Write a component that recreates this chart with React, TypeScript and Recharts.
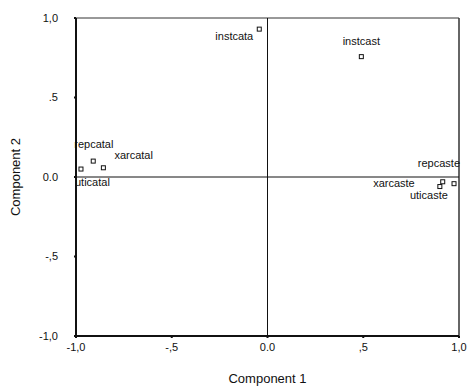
import React from "react";
import {
  ScatterChart,
  Scatter,
  XAxis,
  YAxis,
  ReferenceLine,
} from "recharts";

const labels = [
  "instcata",
  "instcast",
  "repcatal",
  "xarcatal",
  "uticatal",
  "repcaste",
  "xarcaste",
  "uticaste",
];
const comp1 = [-0.043, 0.49, -0.91, -0.857, -0.974, 0.974, 0.915, 0.9];
const comp2 = [0.93, 0.757, 0.1, 0.058, 0.05, -0.042, -0.03, -0.06];

const xTicks = [-1, -0.5, 0, 0.5, 1];
const xTickLabels = ["-1,0", "-,5", "0.0", ",5", "1,0"];
const yTicks = [-1, -0.5, 0, 0.5, 1];
const yTickLabels = ["-1,0", "-,5", "0.0", ".5", "1,0"];

const data = labels.map((name, i) => ({ name, x: comp1[i], y: comp2[i] }));

// label placement relative to marker (anchor, dx, dy)
const placement: Record<string, [string, number, number]> = {
  instcata: ["end", -6, 7],
  instcast: ["middle", 0, -16],
  repcatal: ["start", -19, -17],
  xarcatal: ["start", 11, -13],
  uticatal: ["start", -6, 13],
  repcaste: ["end", 6, -21],
  xarcaste: ["end", -28, 1],
  uticaste: ["end", 8, 8],
};

const font = "'Liberation Sans', Arial, sans-serif";

const Marker = (props: any) => {
  const { cx, cy, payload } = props;
  const p = placement[payload.name] || ["start", 4, 0];
  return (
    <g>
      <rect
        x={cx - 2}
        y={cy - 2}
        width={4}
        height={4}
        fill="#fff"
        stroke="#111"
        strokeWidth={1}
      />
      <text
        x={cx + p[1]}
        y={cy + p[2]}
        textAnchor={p[0] as any}
        dominantBaseline="central"
        fontSize={11}
        fontFamily={font}
        fill="#111"
      >
        {payload.name}
      </text>
    </g>
  );
};

export default function App() {
  return (
    <div style={{ position: "absolute", left: 0, top: 0, background: "#fff" }}>
      <ScatterChart
        width={469}
        height={391}
        margin={{ top: 18, right: 10, bottom: 0, left: 0 }}
      >
        <XAxis
          type="number"
          dataKey="x"
          domain={[-1, 1]}
          ticks={xTicks}
          tickFormatter={(v: number) => xTickLabels[xTicks.indexOf(v)]}
          height={55}
          stroke="#111"
          strokeWidth={2}
          tickSize={2}
          tickMargin={5}
          tick={{ fontSize: 11, fontFamily: font, fill: "#111" }}
          label={{
            value: "Component 1",
            position: "insideBottom",
            offset: 8,
            style: { fontSize: 13, fontFamily: font, fill: "#111" },
          }}
        />
        <YAxis
          type="number"
          dataKey="y"
          domain={[-1, 1]}
          ticks={yTicks}
          tickFormatter={(v: number) => yTickLabels[yTicks.indexOf(v)]}
          width={76}
          stroke="#111"
          strokeWidth={2}
          tickSize={2}
          tickMargin={16}
          tick={{ fontSize: 11, fontFamily: font, fill: "#111" }}
          label={{
            value: "Component 2",
            angle: -90,
            position: "insideLeft",
            offset: 15,
            style: {
              fontSize: 13,
              fontFamily: font,
              fill: "#111",
              textAnchor: "middle",
            },
          }}
        />
        <ReferenceLine y={1} stroke="#333" strokeWidth={1} />
        <ReferenceLine x={1} stroke="#333" strokeWidth={1.5} />
        <ReferenceLine y={0} stroke="#111" strokeWidth={1} />
        <ReferenceLine x={0} stroke="#111" strokeWidth={1} />
        <Scatter data={data} shape={Marker} isAnimationActive={false} />
      </ScatterChart>
    </div>
  );
}
